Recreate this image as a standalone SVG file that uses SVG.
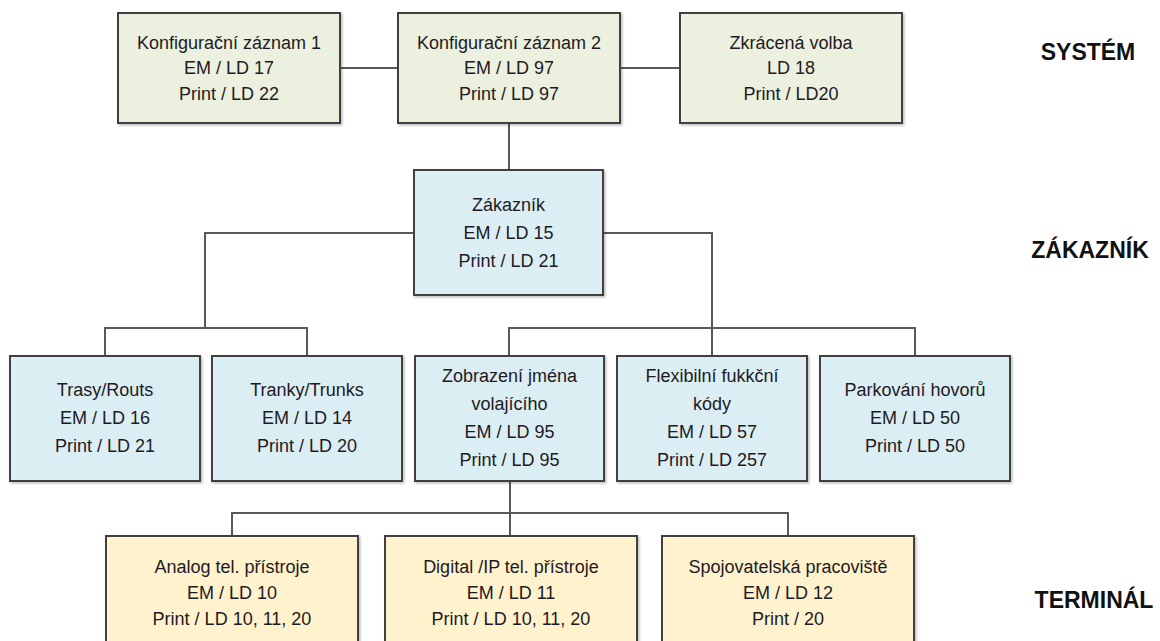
<svg xmlns="http://www.w3.org/2000/svg" width="1160" height="641" viewBox="0 0 1160 641">
  <defs>
    <filter id="shadow" x="-5%" y="-5%" width="110%" height="115%">
      <feDropShadow dx="1.5" dy="1.5" stdDeviation="1" flood-color="#000" flood-opacity="0.25"/>
    </filter>
  </defs>
  <style>
    .box { stroke: #404040; stroke-width: 2; filter: url(#shadow); }
    .sys { fill: #ebf1de; }
    .cust { fill: #dbeef4; }
    .term { fill: #fff2cc; }
    .t { font-family: "Liberation Sans", Arial, sans-serif; font-size: 18px; fill: #1e1a24; text-anchor: middle; }
    .lvl { font-family: "Liberation Sans", Arial, sans-serif; font-size: 23px; font-weight: bold; fill: #111; text-anchor: middle; }
    .wire { fill: none; stroke: #595959; stroke-width: 2; }
  </style>
  <rect width="1160" height="641" fill="#fff"/>

  <!-- connectors -->
  <g id="connectors">
    <path class="wire" d="M340 68 H398"/>
    <path class="wire" d="M620 68 H680"/>
    <path class="wire" d="M509 123 V170"/>
    <path class="wire" d="M414 233 H205 V328"/>
    <path class="wire" d="M105 356 V328 H307 V356"/>
    <path class="wire" d="M603 233 H712 V356"/>
    <path class="wire" d="M509 356 V328 H915 V356"/>
    <path class="wire" d="M510 481 V536"/>
    <path class="wire" d="M232 536 V513 H788 V536"/>
  </g>

  <!-- system level -->
  <g id="konfig1">
    <rect class="box sys" x="118" y="13" width="222" height="110"/>
    <text class="t" x="229" y="49">Konfigurační záznam 1</text>
    <text class="t" x="229" y="74">EM / LD 17</text>
    <text class="t" x="229" y="100">Print / LD 22</text>
  </g>
  <g id="konfig2">
    <rect class="box sys" x="398" y="13" width="222" height="110"/>
    <text class="t" x="509" y="49">Konfigurační záznam 2</text>
    <text class="t" x="509" y="74">EM / LD 97</text>
    <text class="t" x="509" y="100">Print / LD 97</text>
  </g>
  <g id="zkracena">
    <rect class="box sys" x="680" y="13" width="222" height="110"/>
    <text class="t" x="791" y="49">Zkrácená volba</text>
    <text class="t" x="791" y="74">LD 18</text>
    <text class="t" x="791" y="100">Print / LD20</text>
  </g>

  <!-- customer level -->
  <g id="zakaznik">
    <rect class="box cust" x="414" y="170" width="189" height="125"/>
    <text class="t" x="508.5" y="211">Zákazník</text>
    <text class="t" x="508.5" y="239">EM / LD 15</text>
    <text class="t" x="508.5" y="267">Print / LD 21</text>
  </g>
  <g id="trasy">
    <rect class="box cust" x="10" y="356" width="190" height="125"/>
    <text class="t" x="105" y="396">Trasy/Routs</text>
    <text class="t" x="105" y="424">EM / LD 16</text>
    <text class="t" x="105" y="452">Print / LD 21</text>
  </g>
  <g id="tranky">
    <rect class="box cust" x="212" y="356" width="190" height="125"/>
    <text class="t" x="307" y="396">Tranky/Trunks</text>
    <text class="t" x="307" y="424">EM / LD 14</text>
    <text class="t" x="307" y="452">Print / LD 20</text>
  </g>
  <g id="zobrazeni">
    <rect class="box cust" x="415" y="356" width="189" height="125"/>
    <text class="t" x="509.5" y="382">Zobrazení jména</text>
    <text class="t" x="509.5" y="410">volajícího</text>
    <text class="t" x="509.5" y="438">EM / LD 95</text>
    <text class="t" x="509.5" y="466">Print / LD 95</text>
  </g>
  <g id="flexibilni">
    <rect class="box cust" x="617" y="356" width="190" height="125"/>
    <text class="t" x="712" y="382">Flexibilní fukkční</text>
    <text class="t" x="712" y="410">kódy</text>
    <text class="t" x="712" y="438">EM / LD 57</text>
    <text class="t" x="712" y="466">Print / LD 257</text>
  </g>
  <g id="parkovani">
    <rect class="box cust" x="820" y="356" width="190" height="125"/>
    <text class="t" x="915" y="396">Parkování hovorů</text>
    <text class="t" x="915" y="424">EM / LD 50</text>
    <text class="t" x="915" y="452">Print / LD 50</text>
  </g>

  <!-- terminal level -->
  <g id="analog">
    <rect class="box term" x="106" y="536" width="252" height="125"/>
    <text class="t" x="232" y="573">Analog tel. přístroje</text>
    <text class="t" x="232" y="599">EM / LD 10</text>
    <text class="t" x="232" y="625">Print / LD 10, 11, 20</text>
  </g>
  <g id="digital">
    <rect class="box term" x="385" y="536" width="252" height="125"/>
    <text class="t" x="511" y="573">Digital /IP  tel. přístroje</text>
    <text class="t" x="511" y="599">EM / LD 11</text>
    <text class="t" x="511" y="625">Print / LD 10, 11, 20</text>
  </g>
  <g id="spojovatelska">
    <rect class="box term" x="662" y="536" width="252" height="125"/>
    <text class="t" x="788" y="573">Spojovatelská pracoviště</text>
    <text class="t" x="788" y="599">EM / LD 12</text>
    <text class="t" x="788" y="625">Print /  20</text>
  </g>

  <!-- level captions -->
  <g id="levels">
    <text class="lvl" x="1088" y="60">SYSTÉM</text>
    <text class="lvl" x="1090" y="258">ZÁKAZNÍK</text>
    <text class="lvl" x="1094" y="608">TERMINÁL</text>
  </g>
</svg>
